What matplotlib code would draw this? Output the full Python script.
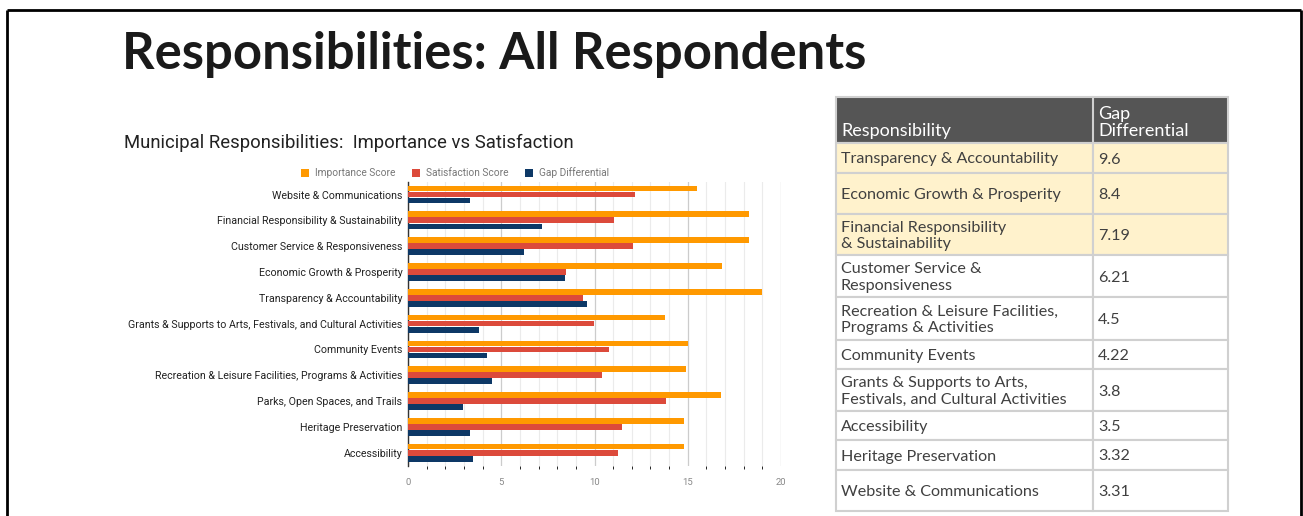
import numpy as np
import matplotlib.pyplot as plt
from matplotlib.patches import Rectangle

# chart data (top to bottom)
categories = [
    'Website & Communications',
    'Financial Responsibility & Sustainability',
    'Customer Service & Responsiveness',
    'Economic Growth & Prosperity',
    'Transparency & Accountability',
    'Grants & Supports to Arts, Festivals, and Cultural Activities',
    'Community Events',
    'Recreation & Leisure Facilities, Programs & Activities',
    'Parks, Open Spaces, and Trails',
    'Heritage Preservation',
    'Accessibility',
]
importance = [15.48, 18.26, 18.30, 16.86, 18.97, 13.76, 15.00, 14.90, 16.77, 14.82, 14.78]
satisfaction = [12.17, 11.07, 12.09, 8.46, 9.37, 9.96, 10.78, 10.40, 13.83, 11.50, 11.28]
gap = [3.31, 7.19, 6.21, 8.40, 9.60, 3.80, 4.22, 4.50, 2.94, 3.32, 3.50]

# ranking table
table_items = [
    'Transparency & Accountability',
    'Economic Growth & Prosperity',
    'Financial Responsibility\n& Sustainability',
    'Customer Service &\nResponsiveness',
    'Recreation & Leisure Facilities,\nPrograms & Activities',
    'Community Events',
    'Grants & Supports to Arts,\nFestivals, and Cultural Activities',
    'Accessibility',
    'Heritage Preservation',
    'Website & Communications',
]
table_values = ['9.6', '8.4', '7.19', '6.21', '4.5', '4.22', '3.8', '3.5', '3.32', '3.31']
highlighted = 3

W, H = 1303, 516
fig = plt.figure(figsize=(W / 100, H / 100), dpi=100)
fig.patch.set_facecolor('white')

# overlay in pixel units for frame, titles and table
ov = fig.add_axes([0, 0, 1, 1])
ov.set_xlim(0, W)
ov.set_ylim(H, 0)
ov.axis('off')

ov.plot([7, 7], [H, 10], color='black', lw=2, solid_capstyle='butt')
ov.plot([7, 1301], [10, 10], color='black', lw=2, solid_capstyle='butt')
ov.plot([1301, 1301], [10, H], color='black', lw=2, solid_capstyle='butt')

ov.text(122, 54, 'Responsibilities: All Respondents', fontsize=36.5, fontweight='bold',
        family='Lato', color='#1a1a1a', va='center', ha='left')
ov.text(124, 143, 'Municipal Responsibilities:  Importance vs Satisfaction', fontsize=13.3,
        family='Roboto', color='#222222', va='center', ha='left')

# bar chart
ax = fig.add_axes([408 / W, 1 - 465.6 / H, (781 - 408) / W, (465.6 - 181.6) / H])
y = np.arange(len(categories))
h = 0.22
step = 0.235
b1 = ax.barh(y - step, importance, height=h, color='#ff9900', zorder=3)
b2 = ax.barh(y, satisfaction, height=h, color='#dc4a3b', zorder=3)
b3 = ax.barh(y + step, gap, height=h, color='#0d3866', zorder=3)
ax.set_ylim(len(categories) - 0.5, -0.5)
ax.set_xlim(0, 20)
ax.set_yticks(y)
ax.set_yticklabels(categories, family='Roboto', fontsize=7.7, color='#222222')
ax.set_xticks([0, 5, 10, 15, 20])
ax.set_xticklabels(['0', '5', '10', '15', '20'], family='Roboto', fontsize=6.8, color='#888888')
ax.set_xticks(np.arange(0, 21, 1), minor=True)
ax.tick_params(axis='both', length=0, pad=4)
ax.tick_params(axis='x', pad=9)
ax.grid(axis='x', which='minor', color='#ebebeb', lw=0.8, zorder=0)
ax.grid(axis='x', which='major', color='#cccccc', lw=0.9, zorder=0)
for s in ['top', 'right', 'bottom']:
    ax.spines[s].set_visible(False)
ax.spines['left'].set_color('#333333')
ax.spines['left'].set_linewidth(1.0)

leg = fig.legend([b1, b2, b3], ['Importance Score', 'Satisfaction Score', 'Gap Differential'],
                 loc='center', bbox_to_anchor=(455 / W, 1 - 173 / H), ncol=3, frameon=False,
                 handlelength=0.8, handleheight=0.8, handletextpad=0.6, columnspacing=1.6,
                 prop={'family': 'Roboto', 'size': 7.3})
for t in leg.get_texts():
    t.set_color('#777777')

# ranking table
x0, x1, x2 = 836, 1093, 1228
rows = [97, 143, 173, 214, 255, 297, 340, 369, 411, 440, 470, 511]
ov.add_patch(Rectangle((x0, rows[0]), x2 - x0, rows[1] - rows[0], facecolor='#555555',
                       edgecolor='#d0d0d0', lw=1.5, zorder=2))
ov.plot([x1, x1], [rows[0], rows[1]], color='#d0d0d0', lw=1.5, zorder=3)
ov.text(x0 + 5, rows[1] - 4, 'Responsibility', family='Lato', fontsize=13, color='white',
        va='bottom', ha='left', zorder=4)
ov.text(x1 + 5, rows[1] - 4, 'Gap\nDifferential', family='Lato', fontsize=13, color='white',
        va='bottom', ha='left', linespacing=1.1, zorder=4)
for i, (item, val) in enumerate(zip(table_items, table_values)):
    top, bot = rows[i + 1], rows[i + 2]
    fc = '#fff2cc' if i < highlighted else 'white'
    for a, b in [(x0, x1), (x1, x2)]:
        ov.add_patch(Rectangle((a, top), b - a, bot - top, facecolor=fc,
                               edgecolor='#d0d0d0', lw=1.5, zorder=2))
    mid = (top + bot) / 2 + 1.5
    ov.text(x0 + 5, mid, item, family='Lato', fontsize=11.6, color='#404040',
            va='center', ha='left', linespacing=1.2, zorder=4)
    ov.text(x1 + 5, mid, val, family='Lato', fontsize=11.6, color='#404040',
            va='center', ha='left', zorder=4)

fig.savefig('out.png', dpi=100)
